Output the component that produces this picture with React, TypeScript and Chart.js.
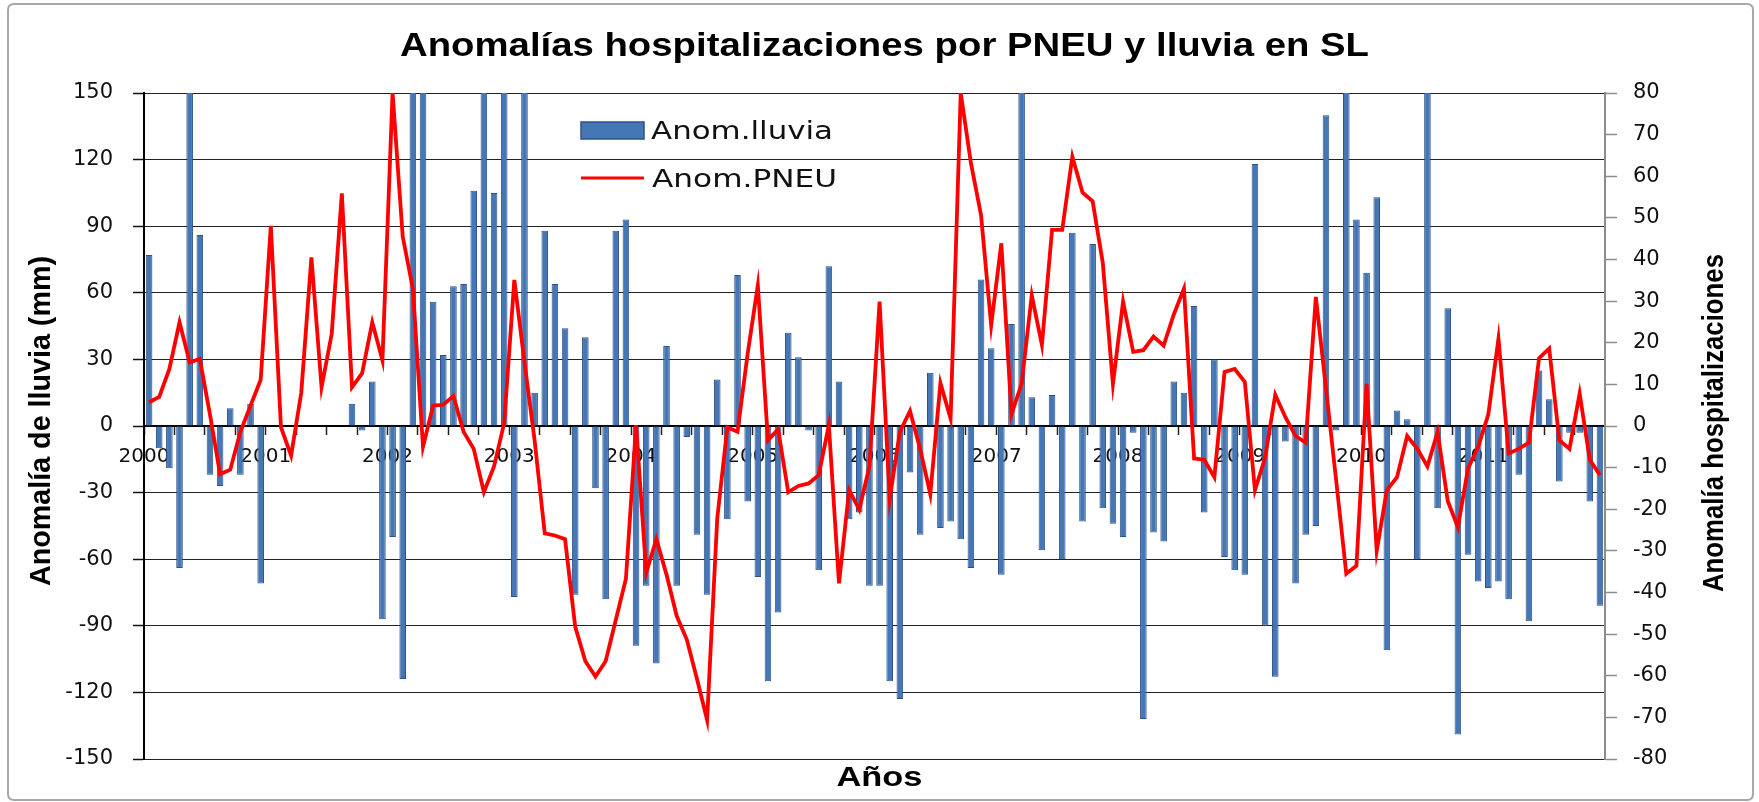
import React, { useEffect, useRef } from 'react';
import { Chart, registerables } from 'chart.js';

Chart.register(...registerables);

// ---------- DATA ----------
const years = ['2000', '2001', '2002', '2003', '2004', '2005', '2006', '2007', '2008', '2009', '2010', '2011'];
const monthNames = ['Ene', 'Feb', 'Mar', 'Abr', 'May', 'Jun', 'Jul', 'Ago', 'Sep', 'Oct', 'Nov', 'Dic'];

// Rainfall anomaly (mm), monthly; 160 = bar running off the top of the axis (>150)
const rain2000 = [77, -10, -19, -64, 160, 86, -22, -27, 8, -22, 10, -71];
const rain2001 = [0, 0, 0, 0, 0, 0, 0, 0, 10, -2, 20, -87];
const rain2002 = [-50, -114, 160, 160, 56, 32, 63, 64, 106, 160, 105, 160];
const rain2003 = [-77, 160, 15, 88, 64, 44, -76, 40, -28, -78, 88, 93];
const rain2004 = [-99, -72, -107, 36, -72, -5, -49, -76, 21, -42, 68, -34];
const rain2005 = [-68, -115, -84, 42, 31, -2, -65, 72, 20, -42, -39, -72];
const rain2006 = [-72, -115, -123, -21, -49, 24, -46, -43, -51, -64, 66, 35];
const rain2007 = [-67, 46, 160, 13, -56, 14, -60, 87, -43, 82, -37, -44];
const rain2008 = [-50, -3, -132, -48, -52, 20, 15, 54, -39, 30, -59, -65];
const rain2009 = [-67, 118, -90, -113, -7, -71, -49, -45, 140, -2, 160, 93];
const rain2010 = [69, 103, -101, 7, 3, -60, 160, -37, 53, -139, -58, -70];
const rain2011 = [-73, -70, -78, -22, -88, 25, 12, -25, -3, -3, -34, -81];

// Pneumonia hospitalisation anomaly, monthly
const pneu2000 = [5.7, 7, 13.7, 24.9, 15.3, 16.1, 2.8, -11.6, -10.5, -1.4, 4.9, 11.1];
const pneu2001 = [48.1, -0.3, -7.1, 8, 40.5, 9.3, 22.1, 55.9, 9.3, 12.7, 24.9, 15.8];
const pneu2002 = [80, 45.5, 33, -5, 4.9, 5.1, 7.2, -1.4, -5.5, -15.9, -9.7, 0.7];
const pneu2003 = [35.1, 15.3, -3.4, -25.8, -26.3, -27.2, -48.2, -56.5, -60.2, -56.5, -46.6, -36.7];
const pneu2004 = [0.2, -35.2, -27.2, -35.7, -45.6, -51.3, -60.7, -70.6, -22.2, -0.3, -1.4, 17.4];
const pneu2005 = [33.8, -3.4, -0.8, -15.9, -14.4, -13.8, -11.8, 0.2, -37.8, -15.4, -20.1, -9.7];
const pneu2006 = [29.9, -17.5, -1.4, 3.6, -5.5, -16.4, 10.3, 1.8, 80, 63.2, 50.7, 24.2];
const pneu2007 = [43.9, 2.8, 10.1, 31.4, 19.5, 47.1, 47.1, 64.7, 56.1, 54, 39.2, 10.1];
const pneu2008 = [29.9, 17.8, 18.2, 21.5, 19.3, 26.8, 33, -7.8, -8.1, -12.3, 13, 13.7];
const pneu2009 = [10.6, -15.4, -7.6, 7.5, 2.1, -2.4, -4, 31, 9, -13, -35.5, -33.6];
const pneu2010 = [10.1, -30, -15.4, -12.3, -2.4, -5.5, -9.7, -1.4, -18, -24.3, -10.2, -5];
const pneu2011 = [2.8, 21, -6.6, -5.5, -4, 16.3, 18.6, -3.4, -5.5, 7.8, -8.1, -11.8];

const rainSeries = [rain2000, rain2001, rain2002, rain2003, rain2004, rain2005, rain2006, rain2007, rain2008, rain2009, rain2010, rain2011];
const pneuSeries = [pneu2000, pneu2001, pneu2002, pneu2003, pneu2004, pneu2005, pneu2006, pneu2007, pneu2008, pneu2009, pneu2010, pneu2011];

const chartTitle = 'Anomalías hospitalizaciones por PNEU y lluvia en SL';
const leftTitle = 'Anomalía de lluvia (mm)';
const rightTitle = 'Anomalía hospitalizaciones';
const xTitle = 'Años';
const rainLabel = 'Anom.lluvia';
const pneuLabel = 'Anom.PNEU';

const BAR_FILL = '#4677B5';
const BAR_EDGE = '#2D5189';
const LINE_RED = '#FF0000';

function fitText(
  ctx: CanvasRenderingContext2D,
  text: string,
  x: number,
  y: number,
  angle: number,
  font: string,
  target: number,
  align: CanvasTextAlign = 'center',
  color = '#000'
) {
  ctx.save();
  ctx.font = font;
  const w = ctx.measureText(text).width;
  ctx.translate(x, y);
  ctx.rotate(angle);
  ctx.scale(target / w, 1);
  ctx.textAlign = align;
  ctx.textBaseline = 'alphabetic';
  ctx.fillStyle = color;
  ctx.fillText(text, 0, 0);
  ctx.restore();
}

const decorPlugin = {
  id: 'decor',
  beforeDraw(chart: any) {
    const { ctx, width, height } = chart;
    ctx.save();
    ctx.fillStyle = '#ffffff';
    ctx.fillRect(0, 0, width, height);
    ctx.strokeStyle = '#a8a8a8';
    ctx.lineWidth = 2;
    ctx.beginPath();
    const x0 = 8, y0 = 4, x1 = width - 6, y1 = height - 2, r = 6;
    ctx.moveTo(x0 + r, y0);
    ctx.lineTo(x1 - r, y0);
    ctx.quadraticCurveTo(x1, y0, x1, y0 + r);
    ctx.lineTo(x1, y1 - r);
    ctx.quadraticCurveTo(x1, y1, x1 - r, y1);
    ctx.lineTo(x0 + r, y1);
    ctx.quadraticCurveTo(x0, y1, x0, y1 - r);
    ctx.lineTo(x0, y0 + r);
    ctx.quadraticCurveTo(x0, y0, x0 + r, y0);
    ctx.stroke();
    ctx.restore();
  },
  afterDraw(chart: any) {
    const { ctx, chartArea } = chart;
    const { left, top, right, bottom } = chartArea;
    const midY = (top + bottom) / 2;
    // Titles
    fitText(ctx, chartTitle, (left + right) / 2 + 10, 56, 0, 'bold 34px "Liberation Sans", Arial, sans-serif', 969);
    fitText(ctx, xTitle, (left + right) / 2 + 5, 786, 0, 'bold 27px "Liberation Sans", Arial, sans-serif', 86);
    fitText(ctx, leftTitle, 50, midY - 5, -Math.PI / 2, 'bold 29px "Liberation Sans", Arial, sans-serif', 330);
    fitText(ctx, rightTitle, 1723, midY - 3, -Math.PI / 2, 'bold 30px "Liberation Sans", Arial, sans-serif', 338);

    // Legend (inside plot area)
    const lx = left + 437;
    ctx.save();
    ctx.fillStyle = BAR_FILL;
    ctx.strokeStyle = BAR_EDGE;
    ctx.lineWidth = 1.5;
    ctx.fillRect(lx, top + 29, 63, 17);
    ctx.strokeRect(lx, top + 29, 63, 17);
    ctx.strokeStyle = LINE_RED;
    ctx.lineWidth = 3;
    ctx.beginPath();
    ctx.moveTo(lx, top + 85);
    ctx.lineTo(lx + 63, top + 85);
    ctx.stroke();
    ctx.restore();
    fitText(ctx, rainLabel, lx + 70, top + 46, 0, '25px "DejaVu Sans", sans-serif', 182, 'left', '#111');
    fitText(ctx, pneuLabel, lx + 71, top + 94, 0, '25px "DejaVu Sans", sans-serif', 185, 'left', '#111');
  },
};

export default function App() {
  const ref = useRef<HTMLCanvasElement | null>(null);

  useEffect(() => {
    if (!ref.current) return;
    const labels: string[] = [];
    years.forEach((y) => monthNames.forEach((m) => labels.push(`${m} ${y}`)));
    const rain = rainSeries.flat();
    const pneu = pneuSeries.flat();

    const tickFont = { family: '"DejaVu Sans", sans-serif', size: 21 };

    const chart = new Chart(ref.current, {
      data: {
        labels,
        datasets: [
          {
            type: 'line',
            label: pneuLabel,
            data: pneu,
            yAxisID: 'y1',
            borderColor: LINE_RED,
            borderWidth: 3.8,
            pointRadius: 0,
            tension: 0,
            order: 0,
          },
          {
            type: 'bar',
            label: rainLabel,
            data: rain,
            yAxisID: 'y',
            backgroundColor: BAR_FILL,
            borderColor: BAR_EDGE,
            borderWidth: 1,
            categoryPercentage: 1,
            barPercentage: 0.65,
            order: 1,
          },
        ],
      } as any,
      options: {
        responsive: false,
        animation: false,
        devicePixelRatio: 1,
        layout: { padding: { top: 93, bottom: 43, left: 0, right: 0 } },
        plugins: {
          legend: { display: false },
          title: { display: false },
          tooltip: { enabled: false },
        },
        scales: {
          x: {
            axis: 'x',
            type: 'category',
            position: { y: 0 } as any,
            offset: true,
            grid: {
              display: true,
              offset: true,
              drawOnChartArea: false,
              drawTicks: true,
              tickLength: 8,
              tickWidth: 1.5,
              tickColor: (c: any) => (c.index % 3 === 0 ? '#222' : 'rgba(0,0,0,0)'),
            },
            border: { display: true, color: '#000', width: 2 },
            ticks: {
              autoSkip: false,
              maxRotation: 0,
              minRotation: 0,
              padding: 11,
              labelOffset: -5,
              color: '#111',
              font: { family: '"DejaVu Sans", sans-serif', size: 20 },
              callback: (_v: any, i: number) => (i % 12 === 0 ? years[i / 12] : ''),
            },
          },
          y: {
            type: 'linear',
            position: 'left',
            min: -150,
            max: 150,
            afterFit: (s: any) => {
              s.width = 144;
            },
            ticks: { stepSize: 30, padding: 20, color: '#111', font: tickFont },
            grid: { color: '#222', lineWidth: 1, tickLength: 11, tickColor: '#111', tickWidth: 1.5 },
            border: { display: true, color: '#000', width: 2 },
          },
          y1: {
            type: 'linear',
            position: 'right',
            min: -80,
            max: 80,
            afterFit: (s: any) => {
              s.width = 154;
            },
            ticks: { stepSize: 10, padding: 16, color: '#111', font: tickFont },
            grid: { drawOnChartArea: false, tickLength: 12, tickColor: '#8c8c8c', tickWidth: 1.5 },
            border: { display: true, color: '#8c8c8c', width: 2 },
          },
        },
      } as any,
      plugins: [decorPlugin],
    });
    return () => chart.destroy();
  }, []);

  return (
    <div style={{ position: 'fixed', left: 0, top: 0, width: 1759, height: 802, background: '#fff' }}>
      <canvas ref={ref} width={1759} height={802} style={{ display: 'block', width: 1759, height: 802 }} />
    </div>
  );
}
